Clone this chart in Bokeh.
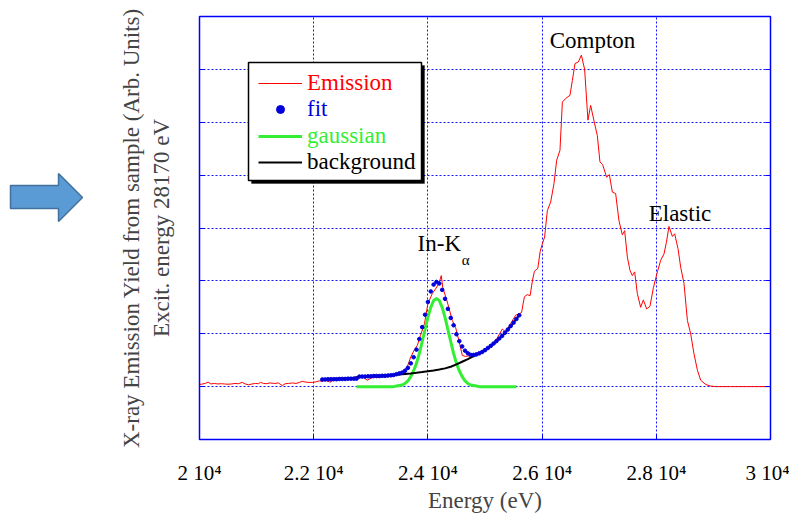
from bokeh.plotting import figure
from bokeh.models import (Range1d, FixedTicker, CustomJSTickFormatter, LinearAxis,
                          Legend, LegendItem, BoxAnnotation, Label)
from bokeh.layouts import row
from bokeh.embed import file_html
from bokeh.resources import INLINE

FONT = "Liberation Serif"

# ---------------- data ----------------
emission_energy = [
    20000, 20050, 20100, 20150, 20200, 20260, 20320, 20380, 20440, 20500,
    20560, 20620, 20680, 20750, 20800, 20860, 20920, 20980, 21030, 21070,
    21120, 21180, 21230, 21270, 21320, 21380, 21450, 21500, 21560, 21630,
    21690, 21750, 21800, 21860, 21920, 21980, 22040, 22100, 22150, 22200,
    22250, 22290, 22340, 22400, 22460, 22520, 22580, 22640, 22700, 22770,
    22830, 22880, 22940, 23000, 23060, 23120, 23180, 23240, 23300, 23380,
    23440, 23520, 23580, 23640, 23700, 23755, 23815, 23870, 23940, 24000,
    24077, 24135, 24193, 24234, 24260, 24340, 24428, 24485, 24543, 24603,
    24660, 24748, 24830, 24923, 24980, 25041, 25100, 25156, 25230, 25303,
    25361, 25449, 25536, 25600, 25640, 25690, 25740, 25790, 25830, 25865,
    25925, 25965, 26004, 26044, 26092, 26150, 26208, 26255, 26313, 26355,
    26413, 26488, 26530, 26576, 26635, 26688, 26745, 26803, 26850, 26920,
    26967, 27013, 27060, 27130, 27178, 27230, 27288, 27346, 27405, 27446,
    27493, 27539, 27580, 27621, 27668, 27726, 27773, 27831, 27889, 27949,
    28019, 28077, 28135, 28177, 28222, 28282, 28322, 28380, 28427, 28485,
    28545, 28602, 28660, 28720, 28778, 28865, 28953, 29050, 29300, 29600,
    30000]
emission_yield = [
    1.04, 1.05, 1.06, 1.085, 1.05, 1.06, 1.05, 1.055, 1.05, 1.045,
    1.05, 1.06, 1.055, 1.08, 1.05, 1.035, 1.05, 1.06, 1.055, 1.08,
    1.06, 1.055, 1.07, 1.065, 1.06, 1.07, 1.02, 1.055, 1.06, 1.07,
    1.06, 1.08, 1.10, 1.085, 1.08, 1.08, 1.09, 1.11, 1.10, 1.12,
    1.10, 1.085, 1.12, 1.14, 1.15, 1.14, 1.15, 1.15, 1.16, 1.19,
    1.19, 1.17, 1.12, 1.16, 1.18, 1.17, 1.18, 1.18, 1.19, 1.19,
    1.22, 1.27, 1.30, 1.38, 1.56, 1.68, 1.78, 1.97, 2.19, 2.57,
    2.76, 2.85, 2.95, 3.10, 2.88, 2.60, 2.25, 2.12, 1.87, 1.59,
    1.57, 1.59, 1.61, 1.63, 1.66, 1.72, 1.76, 1.81, 1.95, 2.09,
    2.03, 2.19, 2.35, 2.38, 2.40, 2.70, 2.74, 2.72, 3.00, 3.18,
    3.24, 3.55, 3.70, 3.83, 4.33, 4.49, 4.84, 5.28, 5.47, 6.38,
    6.45, 6.51, 6.79, 7.11, 7.14, 7.27, 7.00, 6.04, 6.32, 5.97,
    5.75, 5.25, 5.20, 4.96, 5.01, 4.68, 4.65, 4.14, 3.87, 3.95,
    3.45, 3.20, 3.10, 3.17, 2.76, 2.50, 2.64, 2.47, 2.52, 2.87,
    3.17, 3.39, 3.51, 3.73, 4.03, 3.84, 3.89, 3.61, 3.26, 2.95,
    2.25, 2.00, 1.62, 1.31, 1.12, 1.04, 1.01, 1.00, 1.00, 1.00,
    1.00]

fit_energy = [
    22150, 22200, 22250, 22300, 22350, 22400, 22450, 22500, 22550, 22600,
    22650, 22700, 22750, 22800, 22850, 22900, 22950, 23000, 23050, 23100,
    23150, 23200, 23250, 23300, 23350, 23400, 23450, 23500, 23550, 23600,
    23650, 23700, 23750, 23800, 23850, 23900, 23950, 24000, 24050, 24100,
    24150, 24200, 24250, 24300, 24350, 24400, 24450, 24500, 24550, 24600,
    24650, 24700, 24750, 24800, 24850, 24900, 24950, 25000, 25050, 25100,
    25150, 25200, 25250, 25300, 25350, 25400, 25450, 25500, 25550, 25600]
fit_yield = [
    1.135, 1.135, 1.14, 1.14, 1.14, 1.14, 1.145, 1.145, 1.145, 1.15,
    1.15, 1.15, 1.15, 1.19, 1.19, 1.19, 1.195, 1.195, 1.20, 1.20,
    1.20, 1.205, 1.205, 1.21, 1.215, 1.22, 1.235, 1.25, 1.265, 1.30,
    1.355, 1.44, 1.556, 1.70, 1.90, 2.125, 2.36, 2.60, 2.80, 2.93,
    2.98, 2.95, 2.83, 2.66, 2.47, 2.30, 2.16, 1.99, 1.86, 1.76,
    1.68, 1.63, 1.60, 1.60, 1.61, 1.63, 1.655, 1.69, 1.73, 1.77,
    1.815, 1.86, 1.91, 1.96, 2.02, 2.08, 2.145, 2.21, 2.28, 2.35]

gauss_energy = [
    22750, 22800, 22850, 22900, 22950, 23000, 23050, 23100, 23150, 23200,
    23250, 23300, 23350, 23400, 23450, 23500, 23550, 23600, 23650, 23700,
    23750, 23800, 23850, 23900, 23950, 24000, 24050, 24100, 24150, 24200,
    24250, 24300, 24350, 24400, 24450, 24500, 24550, 24600, 24650, 24700,
    24750, 24800, 24850, 24900, 24950, 25000, 25050, 25100, 25150, 25200,
    25250, 25300, 25350, 25400, 25450, 25500, 25550]
gauss_yield = [
    1.00, 1.00, 1.00, 1.00, 1.00, 1.00, 1.00, 1.00, 1.00, 1.00,
    1.00, 1.00, 1.00, 1.00, 1.01, 1.02, 1.03, 1.06, 1.11, 1.19,
    1.30, 1.44, 1.63, 1.85, 2.08, 2.31, 2.50, 2.625, 2.67, 2.625,
    2.50, 2.31, 2.08, 1.85, 1.63, 1.44, 1.30, 1.19, 1.11, 1.06,
    1.03, 1.02, 1.01, 1.00, 1.00, 1.00, 1.00, 1.00, 1.00, 1.00,
    1.00, 1.00, 1.00, 1.00, 1.00, 1.00, 1.00]

bg_energy = [
    22150, 22200, 22300, 22400, 22500, 22600, 22700, 22800, 22900, 23000,
    23100, 23200, 23300, 23400, 23500, 23600, 23700, 23800, 23900, 24000,
    24100, 24200, 24300, 24400, 24500, 24600, 24700, 24800, 24900, 25000,
    25100, 25200, 25300, 25400, 25500, 25600]
bg_yield = [
    1.135, 1.14, 1.145, 1.15, 1.155, 1.16, 1.17, 1.185, 1.19, 1.195,
    1.20, 1.205, 1.21, 1.22, 1.23, 1.24, 1.25, 1.262, 1.275, 1.29,
    1.305, 1.322, 1.345, 1.375, 1.42, 1.47, 1.52, 1.575, 1.625, 1.69,
    1.77, 1.86, 1.96, 2.08, 2.21, 2.35]

x_ticks = [20000, 22000, 24000, 26000, 28000, 30000]
y_ticks = [1, 2, 3, 4, 5, 6, 7]

# ---------------- layout constants ----------------
W, H = 789, 517
AW = 110                                    # width of the arrow panel
FL, FR, FT, FB = 199, 770, 16, 439          # main frame edges in canvas pixels
X0, X1, Y0, Y1 = 20000, 30000, 0, 8


def px_to_x(px):
    return X0 + (px - FL) * (X1 - X0) / (FR - FL)


def py_to_y(py):
    return Y0 + (FB - py) * (Y1 - Y0) / (FB - FT)


# decorative arrow outline (canvas pixels)
arrow_px = [10, 58, 58, 82, 58, 58, 10]
arrow_py = [185, 185, 173, 197, 221, 208, 208]

# ---------------- arrow panel (its frame is aligned with the main frame) ----------------
a = figure(width=AW, height=H, x_range=Range1d(0, AW), y_range=Range1d(FB, FT),
           output_backend="svg", toolbar_location=None,
           min_border_left=0, min_border_right=0, min_border_top=FT,
           min_border_bottom=H - FB, x_axis_location=None, y_axis_location=None)
a.grid.visible = False
a.outline_line_color = None
a.background_fill_alpha = 0
a.patch(arrow_px, arrow_py, fill_color="#5B9BD5", line_color="#41719C", line_width=1.5)

# ---------------- main plot ----------------
p = figure(width=W - AW, height=H, x_range=Range1d(X0, X1), y_range=Range1d(Y0, Y1),
           output_backend="svg", toolbar_location=None,
           min_border_left=FL - AW, min_border_right=W - FR, min_border_top=FT,
           min_border_bottom=H - FB)
p.outline_line_color = "blue"
p.outline_line_width = 1.5

p.xgrid.ticker = FixedTicker(ticks=[22000, 24000, 26000, 28000])
p.ygrid.ticker = FixedTicker(ticks=y_ticks)
for g in (p.xgrid, p.ygrid):
    g.grid_line_color = "#1515ff"
    g.grid_line_dash = "2 2"
    g.grid_line_width = 1

xa = p.xaxis[0]
xa.ticker = FixedTicker(ticks=x_ticks)
xa.formatter = CustomJSTickFormatter(code="return (tick/10000) + ' 10\u2074';")
xa.major_label_text_font = FONT
xa.major_label_text_font_size = "21px"
xa.major_label_text_color = "black"
xa.major_label_standoff = 21
xa.major_tick_in = 5
xa.major_tick_out = 0
xa.minor_tick_out = 0
xa.minor_tick_in = 0
xa.axis_line_color = "blue"
xa.major_tick_line_color = "blue"
xa.axis_label = "Energy (eV)"
xa.axis_label_text_font = FONT
xa.axis_label_text_font_size = "23px"
xa.axis_label_text_font_style = "normal"
xa.axis_label_standoff = 0

ya = p.yaxis[0]
ya.ticker = FixedTicker(ticks=y_ticks)
ya.major_label_text_font_size = "0px"
ya.major_label_standoff = 0
ya.major_tick_in = 5
ya.major_tick_out = 0
ya.minor_tick_in = 0
ya.minor_tick_out = 0
ya.axis_line_color = "blue"
ya.major_tick_line_color = "blue"
ya.axis_label = "X-ray Emission Yield from sample (Arb. Units)\nExcit. energy 28170 eV"
ya.axis_label_text_font = FONT
ya.axis_label_text_font_size = "23px"
ya.axis_label_text_font_style = "normal"
ya.axis_label_standoff = 26

ra = LinearAxis(ticker=FixedTicker(ticks=y_ticks), major_label_text_font_size="0px",
                major_label_standoff=0, major_tick_in=5, major_tick_out=0,
                minor_tick_in=0, minor_tick_out=0, axis_line_color="blue",
                major_tick_line_color="blue")
p.add_layout(ra, "right")

# curves
r_em = p.line(emission_energy, emission_yield, color="red", line_width=1)
r_g = p.line(gauss_energy, gauss_yield, color="#33EE33", line_width=3)
r_bg = p.line(bg_energy, bg_yield, color="black", line_width=2)
r_fit = p.scatter(fit_energy, fit_yield, size=3.6, color="#0000DD")

# legend frame with drop shadow
LB_L, LB_R, LB_T, LB_B = 248, 421, 62, 180
SH = 3
p.add_layout(BoxAnnotation(left=px_to_x(LB_L + SH), right=px_to_x(LB_R + SH),
                           top=py_to_y(LB_T + SH), bottom=py_to_y(LB_B + SH),
                           fill_color="black", fill_alpha=1, line_color="black"))
p.add_layout(BoxAnnotation(left=px_to_x(LB_L), right=px_to_x(LB_R),
                           top=py_to_y(LB_T), bottom=py_to_y(LB_B),
                           fill_color="white", fill_alpha=1, line_color="black",
                           line_width=1.5, line_alpha=1))

entries = [("Emission", r_em, "red", 343),
           ("fit", r_fit, "#0000DD", 317),
           ("gaussian", r_g, "#33EE33", 290),
           ("background", r_bg, "black", 264)]
for lab, rend, col, ypos in entries:
    lg = Legend(items=[LegendItem(label=lab, renderers=[rend])], location=(59, ypos),
                label_text_color=col, label_text_font=FONT, label_text_font_size="23px",
                glyph_width=44, glyph_height=20, label_height=20, label_standoff=5,
                padding=0, margin=0, spacing=0, background_fill_alpha=0,
                border_line_alpha=0)
    p.add_layout(lg, "center")

# annotations
for txt, x, y, size in [("Compton", 26883, 7.55, "23px"),
                        ("Elastic", 28415, 4.27, "23px"),
                        ("In-K", 24200, 3.70, "23px"),
                        ("\u03b1", 24660, 3.40, "15px")]:
    p.add_layout(Label(x=x, y=y, text=txt, text_align="center", text_baseline="middle",
                       text_font=FONT, text_font_size=size, text_color="black"))

layout = row(a, p, spacing=0)
open("out.html", "w").write(file_html(layout, INLINE))
